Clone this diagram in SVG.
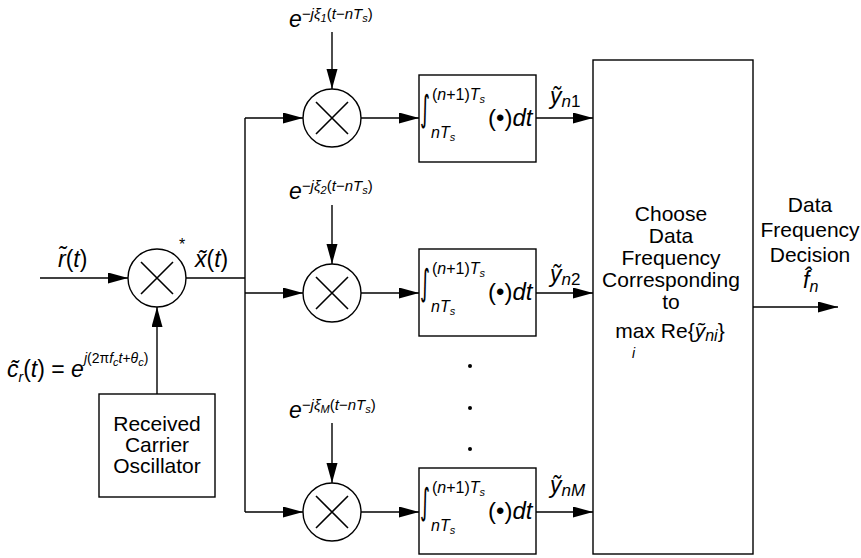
<svg xmlns="http://www.w3.org/2000/svg" width="861" height="558" viewBox="0 0 861 558">
<defs>
<marker id="arr" markerUnits="userSpaceOnUse" markerWidth="20" markerHeight="12" refX="20" refY="5.5" orient="auto">
<path d="M0,0 L20,5.5 L0,11 z" fill="#000"/>
</marker>
<g id="mult">
<circle cx="0" cy="0" r="29" fill="#fff" stroke="#000" stroke-width="1.4"/>
<path d="M-16,-16 L16,16 M16,-16 L-16,16" stroke="#000" stroke-width="1.6" fill="none"/>
</g>
</defs>
<style>
text{font-family:"Liberation Sans",Arial,sans-serif;fill:#000}
.t{font-size:21px}
.m{font-size:23px;font-style:italic}
.sup{font-size:15px;font-style:italic}
.sub{font-size:11px;font-style:italic}
.lim{font-size:16px;font-style:italic}
.box{fill:#fff;stroke:#000;stroke-width:1.4}
.ln{stroke:#000;stroke-width:1.4;fill:none}
.a{stroke:#000;stroke-width:1.4;fill:none;marker-end:url(#arr)}
.int{font-family:"DejaVu Sans",sans-serif;font-size:24px}
.op{font-size:24px}
</style>
<rect width="861" height="558" fill="#fff"/>

<g id="connectors">
<line class="a" x1="40" y1="278" x2="128" y2="278"/>
<line class="ln" x1="185" y1="278" x2="245" y2="278"/>
<line class="ln" x1="245" y1="118" x2="245" y2="512"/>
<line class="a" x1="157" y1="394" x2="157" y2="307"/>
<line class="a" x1="245" y1="118" x2="303" y2="118"/>
<line class="a" x1="245" y1="293" x2="303" y2="293"/>
<line class="a" x1="245" y1="512" x2="303" y2="512"/>
<line class="a" x1="332" y1="32" x2="332" y2="89"/>
<line class="a" x1="332" y1="205" x2="332" y2="264"/>
<line class="a" x1="332" y1="423" x2="332" y2="483"/>
<line class="a" x1="361" y1="118" x2="419" y2="118"/>
<line class="a" x1="361" y1="293" x2="419" y2="293"/>
<line class="a" x1="361" y1="512" x2="419" y2="512"/>
<line class="a" x1="536" y1="118" x2="593" y2="118"/>
<line class="a" x1="536" y1="293" x2="593" y2="293"/>
<line class="a" x1="536" y1="512" x2="593" y2="512"/>
<line class="a" x1="753" y1="307" x2="838" y2="307"/>
</g>

<g id="input-mixer">
<use href="#mult" x="157" y="278"/>
<text x="179" y="250" style="font-size:16px">*</text>
</g>
<text class="m" x="58" y="267">r&#x303;<tspan font-style="normal">(</tspan>t<tspan font-style="normal">)</tspan></text>
<text class="m" x="195" y="267">x&#x303;<tspan font-style="normal">(</tspan>t<tspan font-style="normal">)</tspan></text>
<text class="m" x="7" y="377">c&#x303;<tspan dy="5" style="font-size:14px">r</tspan><tspan dy="-5" font-style="normal">(</tspan>t<tspan font-style="normal">) = </tspan>e<tspan class="sup" dy="-14" style="font-size:14px">j<tspan font-style="normal">(2π</tspan>f<tspan class="sub" dy="3">c</tspan><tspan dy="-3">t</tspan><tspan font-style="normal">+</tspan>θ<tspan class="sub" dy="3">c</tspan><tspan dy="-3" font-style="normal">)</tspan></tspan></text>

<g id="oscillator">
<rect class="box" x="99" y="394" width="116" height="103"/>
<text class="t" x="157" y="431" text-anchor="middle">Received</text>
<text class="t" x="157" y="452" text-anchor="middle">Carrier</text>
<text class="t" x="157" y="473" text-anchor="middle">Oscillator</text>
</g>

<g id="mixer1">
<use href="#mult" x="332" y="118"/>
<text class="m" x="289" y="27">e<tspan class="sup" dy="-8">−jξ<tspan class="sub" font-style="normal" dy="3">1</tspan><tspan dy="-3" font-style="normal">(</tspan>t<tspan font-style="normal">−</tspan>nT<tspan class="sub" dy="3">s</tspan><tspan dy="-3" font-style="normal">)</tspan></tspan></text>
</g>
<g id="mixer2">
<use href="#mult" x="332" y="293"/>
<text class="m" x="289" y="199">e<tspan class="sup" dy="-8">−jξ<tspan class="sub" font-style="normal" dy="3">2</tspan><tspan dy="-3" font-style="normal">(</tspan>t<tspan font-style="normal">−</tspan>nT<tspan class="sub" dy="3">s</tspan><tspan dy="-3" font-style="normal">)</tspan></tspan></text>
</g>
<g id="mixerM">
<use href="#mult" x="332" y="512"/>
<text class="m" x="289" y="418">e<tspan class="sup" dy="-8">−jξ<tspan class="sub" dy="3">M</tspan><tspan dy="-3" font-style="normal">(</tspan>t<tspan font-style="normal">−</tspan>nT<tspan class="sub" dy="3">s</tspan><tspan dy="-3" font-style="normal">)</tspan></tspan></text>
</g>

<g id="integrator1">
<rect class="box" x="419" y="75" width="117" height="87"/>
<text class="int" transform="translate(420,121) scale(0.8,1.5)">∫</text>
<text class="lim" x="432" y="100"><tspan font-style="normal">(</tspan>n<tspan font-style="normal">+1)</tspan>T<tspan class="sub" dy="3">s</tspan></text>
<text class="lim" x="431" y="138">nT<tspan class="sub" dy="3">s</tspan></text>
<text class="op" x="488" y="126">(•)<tspan font-style="italic">dt</tspan></text>
</g>
<g id="integrator2">
<rect class="box" x="419" y="249" width="117" height="87"/>
<text class="int" transform="translate(420,295) scale(0.8,1.5)">∫</text>
<text class="lim" x="432" y="274"><tspan font-style="normal">(</tspan>n<tspan font-style="normal">+1)</tspan>T<tspan class="sub" dy="3">s</tspan></text>
<text class="lim" x="431" y="312">nT<tspan class="sub" dy="3">s</tspan></text>
<text class="op" x="488" y="300">(•)<tspan font-style="italic">dt</tspan></text>
</g>
<g id="integratorM">
<rect class="box" x="419" y="468" width="117" height="86"/>
<text class="int" transform="translate(420,514) scale(0.8,1.5)">∫</text>
<text class="lim" x="432" y="493"><tspan font-style="normal">(</tspan>n<tspan font-style="normal">+1)</tspan>T<tspan class="sub" dy="3">s</tspan></text>
<text class="lim" x="431" y="531">nT<tspan class="sub" dy="3">s</tspan></text>
<text class="op" x="488" y="519">(•)<tspan font-style="italic">dt</tspan></text>
</g>

<text class="m" x="550" y="104">ỹ<tspan dy="3" style="font-size:17px">n</tspan><tspan font-style="normal" style="font-size:17px">1</tspan></text>
<text class="m" x="550" y="282">ỹ<tspan dy="3" style="font-size:17px">n</tspan><tspan font-style="normal" style="font-size:17px">2</tspan></text>
<text class="m" x="550" y="493">ỹ<tspan dy="3" style="font-size:17px">nM</tspan></text>

<g id="dots">
<circle cx="470" cy="366" r="2" fill="#000"/>
<circle cx="470" cy="408" r="2" fill="#000"/>
<circle cx="470" cy="449" r="2" fill="#000"/>
</g>

<g id="decision">
<rect class="box" x="593" y="60" width="160" height="494"/>
<text class="t" x="671" y="221" text-anchor="middle">Choose</text>
<text class="t" x="671" y="243" text-anchor="middle">Data</text>
<text class="t" x="671" y="265" text-anchor="middle">Frequency</text>
<text class="t" x="671" y="287" text-anchor="middle">Corresponding</text>
<text class="t" x="671" y="309" text-anchor="middle">to</text>
<text class="t" x="670" y="338" text-anchor="middle">max Re{<tspan font-style="italic">ỹ</tspan><tspan font-style="italic" dy="3" style="font-size:16px">ni</tspan><tspan dy="-3">}</tspan></text>
<text class="sup" x="632" y="358" style="font-size:14px">i</text>
</g>

<g id="output-label">
<text class="t" x="810" y="212" text-anchor="middle">Data</text>
<text class="t" x="810" y="237" text-anchor="middle">Frequency</text>
<text class="t" x="810" y="262" text-anchor="middle">Decision</text>
<text class="m" x="803" y="288">f&#x302;<tspan dy="4" style="font-size:16px">n</tspan></text>
</g>
</svg>
